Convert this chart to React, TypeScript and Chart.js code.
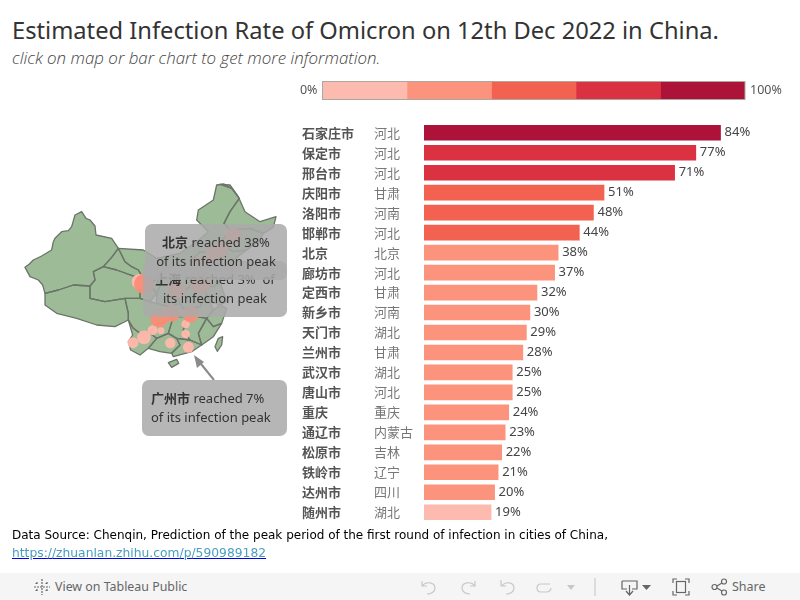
import React, { useEffect, useRef } from "react";
import { Chart, registerables } from "chart.js";
Chart.register(...registerables);

const FONT = '"Noto Sans", "Noto Sans CJK SC", sans-serif';

const cities = ["石家庄市","保定市","邢台市","庆阳市","洛阳市","邯郸市","北京","廊坊市","定西市","新乡市","天门市","兰州市","武汉市","唐山市","重庆","通辽市","松原市","铁岭市","达州市","随州市"];
const provinces = ["河北","河北","河北","甘肃","河南","河北","北京","河北","甘肃","河南","湖北","甘肃","湖北","河北","重庆","内蒙古","吉林","辽宁","四川","湖北"];
const rates = [84,77,71,51,48,44,38,37,32,30,29,28,25,25,24,23,22,21,20,19];
const legendSteps = [20,20,20,20,20];
const palette = ["#fdbaae","#fc937c","#f36250","#da3241","#ad1238"];

const colorFor = (v: number) => palette[Math.min(4, Math.floor(v / 20))];

// province outlines, in map grid units
const xinjiang = [[75,292],[88,282],[100,270],[125,258],[155,240],[160,215],[165,205],[185,185],[205,182],[215,170],[225,135],[245,125],[258,145],[270,150],[285,168],[288,195],[335,205],[355,235],[335,262],[310,290],[280,305],[285,330],[270,348],[220,345],[175,360],[135,370],[128,345],[115,330],[90,320]];
const tibet = [[135,370],[175,360],[220,345],[270,348],[270,385],[315,395],[375,385],[385,430],[385,450],[345,470],[290,465],[230,445],[170,430],[135,405]];
const qinghai = [[270,348],[285,330],[280,305],[310,290],[350,300],[405,320],[420,345],[420,385],[375,385],[315,395],[270,385]];
const gansu = [[310,290],[335,262],[355,235],[375,275],[395,290],[415,300],[430,325],[450,345],[470,370],[450,395],[420,385],[420,345],[405,320],[350,300]];
const innerMongolia = [[650,45],[672,42],[695,55],[718,85],[690,125],[672,160],[690,180],[660,220],[640,250],[600,245],[575,270],[545,285],[500,290],[470,325],[450,345],[430,325],[415,300],[395,290],[375,275],[355,235],[430,240],[470,265],[540,250],[590,215],[625,185],[590,150],[595,120],[640,90]];
const heilongjiang = [[660,43],[690,45],[715,80],[735,125],[780,155],[828,140],[820,172],[790,190],[750,175],[690,180],[672,160],[690,125],[718,85],[695,55]];
const jilin = [[690,180],[750,175],[790,190],[775,215],[740,240],[700,245],[660,220]];
const liaoning = [[660,220],[700,245],[740,240],[700,270],[670,290],[650,280],[640,250]];
const hebei = [[640,250],[650,280],[620,295],[610,345],[570,350],[575,300],[575,270],[600,245]];
const shanxi = [[575,270],[575,300],[570,350],[530,375],[525,340],[545,285]];
const shaanxi = [[500,290],[545,285],[525,340],[530,375],[540,400],[510,410],[470,400],[470,370],[480,350],[470,325]];
const ningxia = [[450,345],[470,325],[480,350],[470,370]];
const shandong = [[620,295],[650,300],[700,285],[700,305],[660,335],[640,350],[610,345]];
const henan = [[570,350],[610,345],[620,375],[600,410],[550,415],[540,400],[530,375]];
const jiangsu = [[640,350],[660,335],[680,395],[660,405],[630,395],[620,375],[610,345]];
const anhui = [[620,375],[630,395],[640,420],[620,445],[590,440],[590,410],[600,410]];
const zhejiang = [[640,420],[660,405],[680,415],[665,460],[640,470],[620,445]];
const fujian = [[620,445],[640,470],[665,460],[640,500],[605,525],[595,490]];
const jiangxi = [[590,440],[620,445],[595,490],[605,525],[570,510],[550,480],[560,440]];
const hubei = [[510,410],[540,400],[550,415],[590,410],[590,440],[560,440],[520,440],[505,430]];
const hunan = [[520,440],[560,440],[550,480],[570,510],[530,505],[505,490]];
const sichuan = [[375,385],[420,385],[450,395],[470,400],[510,410],[505,430],[495,455],[465,465],[450,490],[420,490],[400,475],[385,450],[385,430]];
const guizhou = [[465,465],[495,455],[505,430],[520,440],[505,490],[470,505],[450,490]];
const yunnan = [[385,450],[400,475],[420,490],[450,490],[470,505],[445,535],[420,555],[392,540],[385,515],[398,495]];
const guangxi = [[470,505],[505,490],[530,505],[540,525],[515,550],[480,545],[445,535]];
const guangdong = [[530,505],[570,510],[605,525],[575,545],[520,560],[515,550],[540,525]];
const hainan = [[505,578],[530,568],[536,580],[515,592]];
const taiwan = [[655,505],[668,500],[665,525],[652,544],[645,530]];
const regions = [xinjiang,tibet,qinghai,gansu,innerMongolia,heilongjiang,jilin,liaoning,hebei,shanxi,shaanxi,ningxia,shandong,henan,jiangsu,anhui,zhejiang,fujian,jiangxi,hubei,hunan,sichuan,guizhou,yunnan,guangxi,guangdong,hainan,taiwan];

// city markers: grid x, grid y, share of peak reached
const markerX = [418,432,478,432,458,483,399,511,557,557,565,700,662,572,600,515,600,640,530];
const markerY = [335,342,445,502,481,482,518,519,492,462,532,197,240,432,340,430,290,255,360];
const markerPeak = [19,38,30,14,5,1,7,6,3,3,7,23,22,25,44,24,38,21,28];

function Icon({ x, w, children }: any) {
  return <svg style={{ position: "absolute", left: x, top: 578, width: w, height: 18 }} viewBox={`0 0 ${w} 18`} fill="none" stroke="#9a9a9a" strokeWidth="1.2">{children}</svg>;
}

export default function App() {
  const mapRef = useRef<HTMLCanvasElement>(null);
  const legendRef = useRef<HTMLCanvasElement>(null);
  const barRef = useRef<HTMLCanvasElement>(null);

  useEffect(() => {
    const mapChart = new Chart(mapRef.current!, {
      type: "bubble",
      data: {
        datasets: [
          {
            data: markerX.map((x, i) => ({ x, y: markerY[i], r: 2.2 + Math.sqrt(markerPeak[i]) * 1.25 })),
            backgroundColor: markerPeak.map((p) => (p < 20 ? "rgba(255,184,171,0.95)" : "rgba(252,140,118,0.95)")),
            borderWidth: 0,
          } as any,
        ],
      },
      options: {
        animation: false,
        responsive: false,
        events: [],
        layout: { padding: 0, autoPadding: false },
        plugins: { legend: { display: false }, tooltip: { enabled: false } },
        scales: {
          x: { type: "linear", min: 0, max: 900, display: false },
          y: { type: "linear", min: 0, max: 840, reverse: true, display: false },
        },
      },
      plugins: [
        {
          id: "regionsLayer",
          beforeDatasetsDraw(c: any) {
            const { ctx, scales } = c;
            ctx.save();
            ctx.lineJoin = "round";
            regions.forEach((r) => {
              ctx.beginPath();
              r.forEach(([x, y], i) => {
                const px = scales.x.getPixelForValue(x);
                const py = scales.y.getPixelForValue(y);
                if (i === 0) ctx.moveTo(px, py);
                else ctx.lineTo(px, py);
              });
              ctx.closePath();
              ctx.fillStyle = "#9dbb97";
              ctx.fill();
            });
            regions.forEach((r) => {
              ctx.beginPath();
              r.forEach(([x, y], i) => {
                const px = scales.x.getPixelForValue(x);
                const py = scales.y.getPixelForValue(y);
                if (i === 0) ctx.moveTo(px, py);
                else ctx.lineTo(px, py);
              });
              ctx.closePath();
              ctx.strokeStyle = "#6c7469";
              ctx.lineWidth = 1.3;
              ctx.stroke();
            });
            ctx.restore();
          },
        },
      ],
    });

    const legendChart = new Chart(legendRef.current!, {
      type: "bar",
      data: {
        labels: ["scale"],
        datasets: legendSteps.map((v, i) => ({
          data: [v],
          backgroundColor: palette[i],
          borderWidth: 0,
          barPercentage: 1,
          categoryPercentage: 1,
        })),
      },
      options: {
        indexAxis: "y",
        animation: false,
        responsive: false,
        events: [],
        layout: { padding: { left: 32.5, right: 55, top: 2.5, bottom: 1.5 } },
        plugins: { legend: { display: false }, tooltip: { enabled: false } },
        scales: {
          x: { stacked: true, min: 0, max: 100, display: false },
          y: { stacked: true, display: false },
        },
      },
      plugins: [
        {
          id: "legendFrame",
          afterDraw(c: any) {
            const { ctx, chartArea: a } = c;
            ctx.save();
            ctx.strokeStyle = "#a9a9a2";
            ctx.lineWidth = 1;
            ctx.strokeRect(a.left, a.top, a.right - a.left, a.bottom - a.top);
            ctx.fillStyle = "#555";
            ctx.font = `12.5px ${FONT}`;
            ctx.textBaseline = "middle";
            ctx.textAlign = "right";
            ctx.fillText("0%", a.left - 5, (a.top + a.bottom) / 2 - 0.5);
            ctx.textAlign = "left";
            ctx.fillText("100%", a.right + 5, (a.top + a.bottom) / 2 - 0.5);
            ctx.restore();
          },
        },
      ],
    });

    const barChart = new Chart(barRef.current!, {
      type: "bar",
      data: {
        labels: cities,
        datasets: [{ data: rates, backgroundColor: rates.map(colorFor), borderWidth: 0, barThickness: 15 }],
      },
      options: {
        indexAxis: "y",
        animation: false,
        responsive: false,
        events: [],
        layout: { padding: { right: 23, top: 0, bottom: 0, left: 0 }, autoPadding: false },
        plugins: { legend: { display: false }, tooltip: { enabled: false } },
        scales: {
          x: { min: 0, max: 100, display: false },
          y: {
            grid: { display: false },
            border: { display: false },
            afterFit(s: any) { s.width = 122; },
            ticks: {
              crossAlign: "far",
              padding: 0,
              autoSkip: false,
              color: "#555",
              font: { family: '"Noto Sans CJK SC", sans-serif', size: 13, weight: "bold" },
            },
          },
        },
      },
      plugins: [
        {
          id: "rowText",
          afterDatasetsDraw(c: any) {
            const { ctx, scales } = c;
            ctx.save();
            ctx.textBaseline = "middle";
            rates.forEach((v, i) => {
              const y = scales.y.getPixelForValue(i);
              ctx.textAlign = "left";
              ctx.fillStyle = "#777";
              ctx.font = `13px "Noto Sans CJK SC", sans-serif`;
              ctx.fillText(provinces[i], 72, y);
              ctx.fillStyle = "#444";
              ctx.font = `13px ${FONT}`;
              ctx.fillText(`${v}%`, scales.x.getPixelForValue(v) + 4, y);
            });
            ctx.restore();
          },
        },
      ],
    });

    return () => {
      mapChart.destroy();
      legendChart.destroy();
      barChart.destroy();
    };
  }, []);

  const box = (style: any): any => ({
    position: "absolute",
    background: "rgba(170,170,170,0.86)",
    borderRadius: 7,
    color: "#333",
    font: `13px/19px ${FONT}`,
    boxSizing: "border-box",
    ...style,
  });

  return (
    <div style={{ position: "absolute", left: 0, top: 0, width: 800, height: 600, background: "#fff", overflow: "hidden", fontFamily: FONT }}>
      <div style={{ position: "absolute", left: 12, top: 12, fontSize: 23.7, lineHeight: "36px", color: "#333", whiteSpace: "nowrap" }}>
        Estimated Infection Rate of Omicron on 12th Dec 2022 in China.
      </div>
      <div style={{ position: "absolute", left: 12, top: 47, fontFamily: '"Open Sans"', fontWeight: 300, fontSize: 16.9, lineHeight: "22px", fontStyle: "italic", color: "#444", whiteSpace: "nowrap" }}>
        click on map or bar chart to get more information.
      </div>

      <canvas ref={mapRef} width={300} height={280} style={{ position: "absolute", left: 0, top: 170 }} />
      <canvas ref={legendRef} width={510} height={22} style={{ position: "absolute", left: 290, top: 79 }} />
      <canvas ref={barRef} width={498} height={415} style={{ position: "absolute", left: 302, top: 115 }} />

      <svg style={{ position: "absolute", left: 0, top: 170, width: 300, height: 280 }} viewBox="0 0 300 280">
        <path d="M214 210 L197 189" stroke="#8a8a8a" strokeWidth="2" />
        <path d="M194 185 L204 192 L197 198 Z" fill="#8a8a8a" />
      </svg>
      <div style={box({ left: 143, top: 261, width: 144, height: 56, paddingTop: 9, textAlign: "center" })}>
        <b>上海</b> reached 3%&nbsp; of<br />its infection peak
      </div>
      <div style={box({ left: 145, top: 224, width: 142, height: 56, paddingTop: 9, textAlign: "center" })}>
        <b>北京</b> reached 38%<br />of its infection peak
      </div>
      <div style={box({ left: 142, top: 380, width: 145, height: 56, paddingTop: 9, paddingLeft: 9 })}>
        <b>广州市</b> reached 7%<br />of its infection peak
      </div>

      <div style={{ position: "absolute", left: 12, top: 526, font: '12px/18px "DejaVu Sans", sans-serif', color: "#000", whiteSpace: "nowrap" }}>
        Data Source: Chenqin, Prediction of the peak period of the first round of infection in cities of China,
        <br />
        <span style={{ fontSize: 12.3, color: "#4a9ebf", textDecoration: "underline", textDecorationColor: "#0000ee" }}>https://zhuanlan.zhihu.com/p/590989182</span>
      </div>

      <div style={{ position: "absolute", left: 0, top: 573, width: 800, height: 27, background: "#f5f5f5" }} />
      <Icon x={33} w={18}>
        <path d="M9 1v16M1 9h16M4 4v3M2.5 5.5h3M14 4v3M12.500 5.500h3M4 11v3M2.500 12.500h3M14 11v3M12.500 12.500h3" strokeDasharray="2 1" stroke="#666" />
      </Icon>
      <div style={{ position: "absolute", left: 55, top: 578, fontSize: 12.4, lineHeight: "18px", color: "#666", whiteSpace: "nowrap" }}>View on Tableau Public</div>
      <Icon x={420} w={18}><path d="M2 3v5h5M2 8C6 3 15 4 15 10c0 4-4 6-8 6" stroke="#c8c8c8" /></Icon>
      <Icon x={459} w={18}><path d="M16 3v5h-5M16 8C12 3 3 4 3 10c0 4 4 6 8 6" stroke="#c8c8c8" /></Icon>
      <Icon x={499} w={18}><path d="M2 2v6M2 8h5M3 8C6 3 15 4 15 10c0 4-4 6-8 6" stroke="#c8c8c8" /></Icon>
      <Icon x={535} w={18}><path d="M15 6H6C3 6 2 8 2 10s1 4 4 4h6c2 0 4-2 4-4" stroke="#c8c8c8" /></Icon>
      <Icon x={566} w={10}><path d="M1 7h8L5 12Z" fill="#c8c8c8" stroke="none" /></Icon>
      <Icon x={594} w={2}><path d="M1 0v18" stroke="#ccc" /></Icon>
      <Icon x={621} w={30}><path d="M1 3h15v8h-5M6 11H1V3M8.500 7v10M5 13l3.500 4 3.500-4" stroke="#666" /><path d="M21 7h9l-4.500 5Z" fill="#666" stroke="none" /></Icon>
      <Icon x={672} w={18}><path d="M1 5V1h4M13 1h4v4M17 13v4h-4M5 17H1v-4" stroke="#666" /><rect x="4.500" y="3.500" width="9" height="11" stroke="#666" /></Icon>
      <Icon x={711} w={17}><circle cx="3.500" cy="9" r="2.500" stroke="#666" /><circle cx="13" cy="3.500" r="2.500" stroke="#666" /><circle cx="13" cy="14.500" r="2.500" stroke="#666" /><path d="M6 8l5-3M6 10l5 3" stroke="#666" /></Icon>
      <div style={{ position: "absolute", left: 732, top: 578, fontSize: 12.5, lineHeight: "18px", color: "#666" }}>Share</div>
    </div>
  );
}
